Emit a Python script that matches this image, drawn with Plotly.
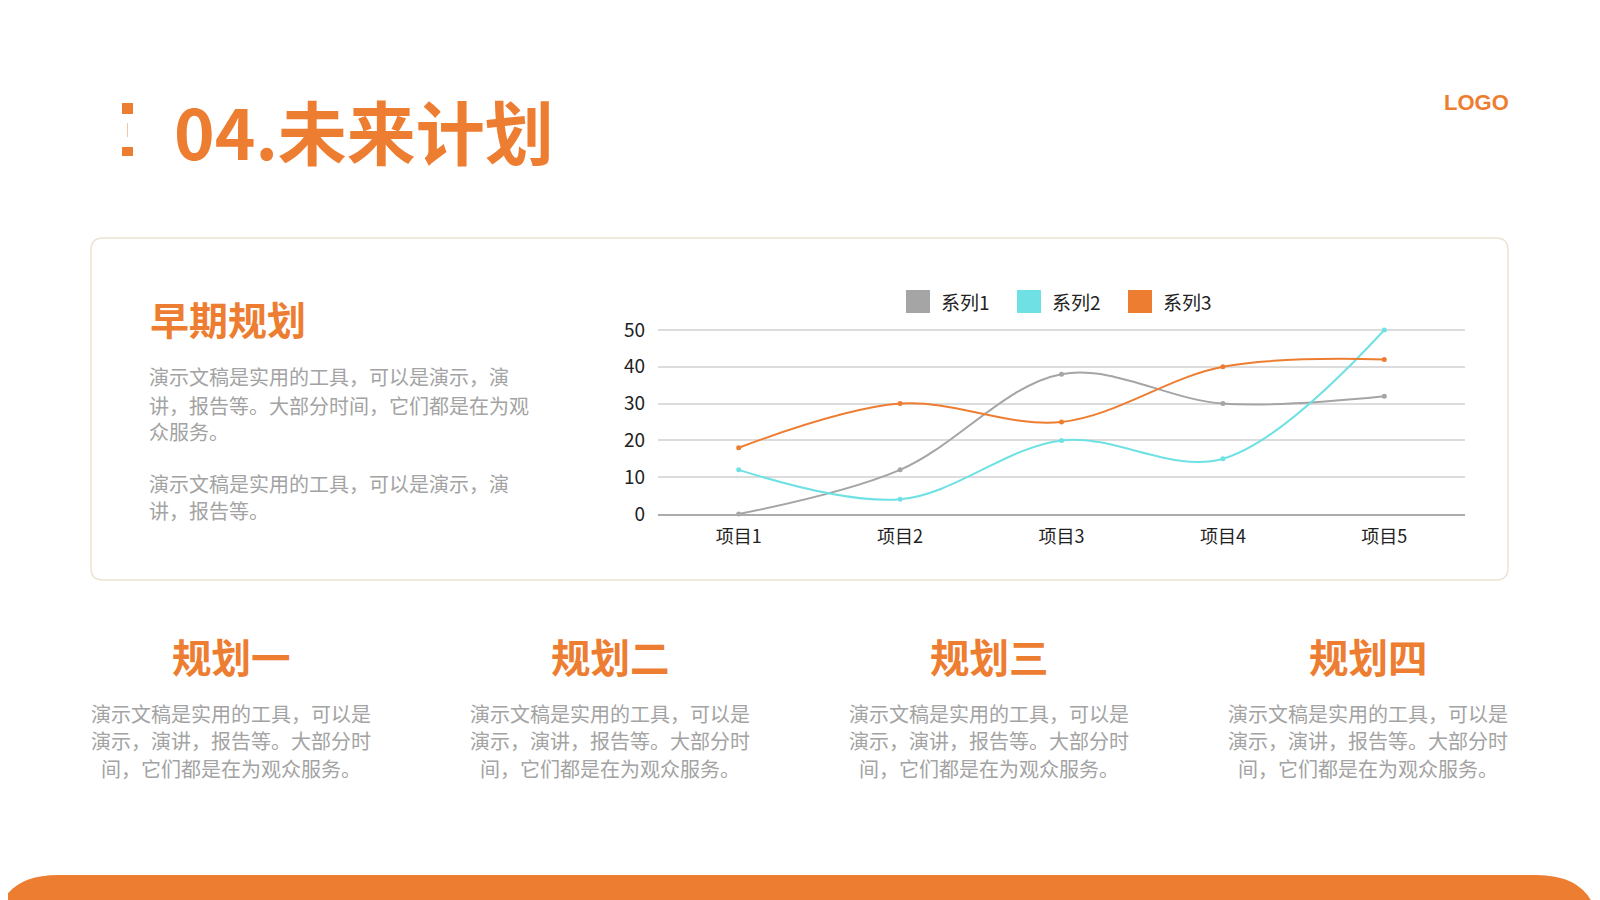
import plotly.graph_objects as go

W, H = 1600, 900
PAGE_OFFSET = 8  # body margin of the html page

# chart data
categories = ["项目1", "项目2", "项目3", "项目4", "项目5"]
series_names = ["系列1", "系列2", "系列3"]
series1 = [0, 12, 38, 30, 32]
series2 = [12, 4, 20, 15, 50]
series3 = [18, 30, 25, 40, 42]
y_ticks = [0, 10, 20, 30, 40, 50]

# slide texts
title_text = "04.未来计划"
logo_text = "LOGO"
card_title = "早期规划"
card_lines = [
    "演示文稿是实用的工具，可以是演示，演",
    "讲，报告等。大部分时间，它们都是在为观",
    "众服务。",
    "",
    "演示文稿是实用的工具，可以是演示，演",
    "讲，报告等。",
]
plan_titles = ["规划一", "规划二", "规划三", "规划四"]
plan_lines = [
    "演示文稿是实用的工具，可以是",
    "演示，演讲，报告等。大部分时",
    "间，它们都是在为观众服务。",
]

ORANGE = "#ED7D31"
GRAY = "#A5A5A5"
CYAN = "#6FE1E4"
TEXT_GRAY = "#A3A3A3"
CJK = "Noto Sans CJK SC"
colors = [GRAY, CYAN, ORANGE]


def px(x):
    return (x - PAGE_OFFSET) / W


def py(y):
    return 1 - (y - PAGE_OFFSET) / H


def round_rect(x0, y0, x1, y1, r):
    """rounded rectangle path in paper coords, input in pixels"""
    pts = [
        f"M {px(x0 + r)},{py(y0)}",
        f"L {px(x1 - r)},{py(y0)}",
        f"Q {px(x1)},{py(y0)} {px(x1)},{py(y0 + r)}",
        f"L {px(x1)},{py(y1 - r)}",
        f"Q {px(x1)},{py(y1)} {px(x1 - r)},{py(y1)}",
        f"L {px(x0 + r)},{py(y1)}",
        f"Q {px(x0)},{py(y1)} {px(x0)},{py(y1 - r)}",
        f"L {px(x0)},{py(y0 + r)}",
        f"Q {px(x0)},{py(y0)} {px(x0 + r)},{py(y0)}",
        "Z",
    ]
    return " ".join(pts)


fig = go.Figure()

for name, vals, col in zip(series_names, [series1, series2, series3], colors):
    fig.add_trace(go.Scatter(
        x=categories, y=vals, name=name, mode="lines+markers",
        line=dict(color=col, width=2, shape="spline", smoothing=1),
        marker=dict(color=col, size=5),
        showlegend=False, cliponaxis=False,
    ))

shapes = []
annotations = []

# card border
shapes.append(dict(type="path", xref="paper", yref="paper",
                   path=round_rect(91, 238, 1508, 580, 12),
                   line=dict(color="#EEE3D1", width=1.5), fillcolor="rgba(0,0,0,0)",
                   layer="below"))

# bottom orange band
shapes.append(dict(type="path", xref="paper", yref="paper",
                   path=round_rect(-6, 875, 1600, 960, 64),
                   line=dict(width=0), fillcolor=ORANGE, layer="below"))

# title marker (colon-like)
shapes.append(dict(type="rect", xref="paper", yref="paper",
                   x0=px(122), x1=px(133), y0=py(114), y1=py(103),
                   line=dict(width=0), fillcolor=ORANGE))
shapes.append(dict(type="rect", xref="paper", yref="paper",
                   x0=px(122), x1=px(133), y0=py(156), y1=py(147),
                   line=dict(width=0), fillcolor=ORANGE))
shapes.append(dict(type="line", xref="paper", yref="paper",
                   x0=px(127.5), x1=px(127.5), y0=py(137), y1=py(123),
                   line=dict(color="#F3C6A5", width=1)))

annotations.append(dict(text=title_text, x=px(172), y=py(130),
                        xref="paper", yref="paper", xanchor="left", yanchor="middle",
                        showarrow=False,
                        font=dict(family=CJK, size=69, color=ORANGE, weight=700)))
annotations.append(dict(text=f"<b>{logo_text}</b>", x=px(1511), y=py(103),
                        xref="paper", yref="paper", xanchor="right", yanchor="middle",
                        showarrow=False, font=dict(family="Liberation Sans", size=22, color=ORANGE)))

# card left texts
annotations.append(dict(text=f"<b>{card_title}</b>", x=px(148), y=py(318),
                        xref="paper", yref="paper", xanchor="left", yanchor="middle",
                        showarrow=False, font=dict(family=CJK, size=39, color=ORANGE)))
line_y = [377, 405, 432, 455, 483, 510]
for txt, yy in zip(card_lines, line_y):
    if txt:
        annotations.append(dict(text=txt, x=px(147), y=py(yy),
                                xref="paper", yref="paper", xanchor="left", yanchor="middle",
                                showarrow=False, font=dict(family=CJK, size=20, color=TEXT_GRAY)))

# manual legend with square swatches
leg_x = [906, 1017, 1128]
for name, col, lx in zip(series_names, colors, leg_x):
    shapes.append(dict(type="rect", xref="paper", yref="paper",
                       x0=px(lx), x1=px(lx + 24), y0=py(313), y1=py(290),
                       line=dict(width=0), fillcolor=col))
    annotations.append(dict(text=name, x=px(lx + 33), y=py(301),
                            xref="paper", yref="paper", xanchor="left", yanchor="middle",
                            showarrow=False, font=dict(family=CJK, size=19, color="#222222")))

# bottom four columns
col_x = [231, 610, 989, 1368]
for head, cx in zip(plan_titles, col_x):
    annotations.append(dict(text=f"<b>{head}</b>", x=px(cx), y=py(655),
                            xref="paper", yref="paper", xanchor="center", yanchor="middle",
                            showarrow=False, font=dict(family=CJK, size=39.5, color=ORANGE)))
    for txt, yy in zip(plan_lines, [713, 740, 768]):
        annotations.append(dict(text=txt, x=px(cx), y=py(yy),
                                xref="paper", yref="paper", xanchor="center", yanchor="middle",
                                showarrow=False, font=dict(family=CJK, size=20, color=TEXT_GRAY)))

# y axis: keep 0 at 514px and 50 at 330px, with a bit of headroom so the top gridline shows
y_top = 50.5
top_px = 514 - (514 - 330) * y_top / 50

fig.update_layout(
    width=W, height=H,
    margin=dict(l=0, r=0, t=0, b=0, pad=0, autoexpand=False),
    paper_bgcolor="white", plot_bgcolor="white",
    shapes=shapes, annotations=annotations,
    xaxis=dict(domain=[px(658), px(1465)], range=[-0.5, 4.5], type="category",
               showgrid=False, showline=True, linecolor="#ABABAB", linewidth=1.5,
               ticks="", ticklabelstandoff=6, zeroline=False, automargin=False,
               tickfont=dict(family=CJK, size=18, color="#222222")),
    yaxis=dict(domain=[py(514), py(top_px)], range=[0, y_top], tickvals=y_ticks,
               showgrid=True, gridcolor="#DCDCDC", gridwidth=1.5, zeroline=False,
               showline=False, ticks="", ticklabelstandoff=12, automargin=False,
               tickfont=dict(family=CJK, size=19, color="#222222")),
    hovermode=False,
)

fig.write_html("out.html")
